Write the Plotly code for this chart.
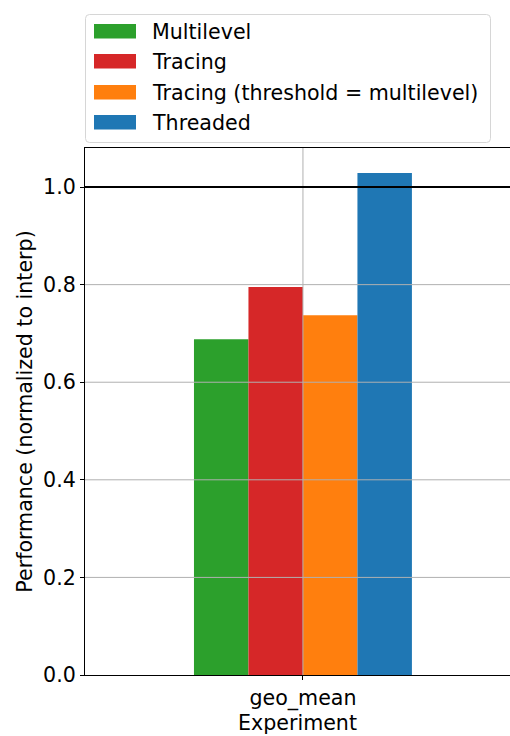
import plotly.graph_objects as go

# ---- data ----
categories = ["geo_mean"]
series_names = ["Multilevel", "Tracing", "Tracing (threshold = multilevel)", "Threaded"]
series_values = [[0.688], [0.795], [0.737], [1.029]]
series_colors = ["#2ca02c", "#d62728", "#ff7f0e", "#1f77b4"]
y_ticks = [0.0, 0.2, 0.4, 0.6, 0.8, 1.0]
y_tick_labels = ["0.0", "0.2", "0.4", "0.6", "0.8", "1.0"]
reference_level = 1.0

W, H = 510, 736
ML, MR, MT, MB = 85, 0, 148, 61
PW, PH = W - ML - MR, H - MT - MB
FONT = "DejaVu Sans"
FS = 20.6

def px_x(px):
    return (px - ML) / PW

def px_y(py):
    return (H - MB - py) / PH

fig = go.Figure()
for name, vals, col in zip(series_names, series_values, series_colors):
    fig.add_trace(go.Bar(x=categories, y=vals, name=name, marker=dict(color=col, line=dict(width=0)),
                         showlegend=False))

shapes = []
# gridlines above bars (as in reference)
for t in y_ticks[1:]:
    shapes.append(dict(type="line", xref="paper", yref="y", x0=0, x1=1, y0=t, y1=t,
                       line=dict(color="#b0b0b0", width=1), layer="above"))
shapes.append(dict(type="line", xref="x", yref="paper", x0=0, x1=0, y0=0, y1=1,
                   line=dict(color="#b0b0b0", width=1), layer="above"))
# reference line
shapes.append(dict(type="line", xref="paper", yref="y", x0=0, x1=1, y0=reference_level, y1=reference_level,
                   line=dict(color="black", width=2), layer="above"))

# manual legend
lx0, lx1, ly0, ly1, r = 85.5, 490.5, 14.5, 142.5, 4
path = (f"M {px_x(lx0 + r)},{px_y(ly0)} L {px_x(lx1 - r)},{px_y(ly0)} "
        f"Q {px_x(lx1)},{px_y(ly0)} {px_x(lx1)},{px_y(ly0 + r)} "
        f"L {px_x(lx1)},{px_y(ly1 - r)} Q {px_x(lx1)},{px_y(ly1)} {px_x(lx1 - r)},{px_y(ly1)} "
        f"L {px_x(lx0 + r)},{px_y(ly1)} Q {px_x(lx0)},{px_y(ly1)} {px_x(lx0)},{px_y(ly1 - r)} "
        f"L {px_x(lx0)},{px_y(ly0 + r)} Q {px_x(lx0)},{px_y(ly0)} {px_x(lx0 + r)},{px_y(ly0)} Z")
shapes.append(dict(type="path", xref="paper", yref="paper", path=path,
                   line=dict(color="#d6d6d6", width=1), fillcolor="white", layer="above"))
annotations = []
row_centers = [31.3, 61.3, 92.3, 122.3]
for name, col, cy in zip(series_names, series_colors, row_centers):
    shapes.append(dict(type="rect", xref="paper", yref="paper",
                       x0=px_x(94), x1=px_x(136), y0=px_y(cy - 7.3), y1=px_y(cy + 7.3),
                       fillcolor=col, line=dict(width=0), layer="above"))
    annotations.append(dict(xref="paper", yref="paper", x=px_x(150), y=px_y(cy + 0.5),
                            xanchor="left", yanchor="middle", text=name, showarrow=False,
                            font=dict(family=FONT, size=FS, color="black")))

fig.update_layout(
    width=W, height=H,
    margin=dict(l=ML, r=MR, t=MT, b=MB, pad=0),
    paper_bgcolor="white", plot_bgcolor="white",
    font=dict(family=FONT, size=FS, color="black"),
    barmode="group", bargap=0.5, bargroupgap=0,
    showlegend=False,
    shapes=shapes, annotations=annotations,
    xaxis=dict(type="category", range=[-0.5, 0.475], showgrid=False,
               showline=True, mirror=True, linecolor="black", linewidth=1,
               ticks="outside", ticklen=4, tickwidth=1, tickcolor="black",
               title=dict(text="Experiment", font=dict(family=FONT, size=FS, color="black"), standoff=4),
               tickfont=dict(family=FONT, size=FS, color="black"), zeroline=False),
    yaxis=dict(range=[0, 1.08], tickvals=y_ticks, ticktext=y_tick_labels, showgrid=False,
               showline=True, linecolor="black", linewidth=1, zeroline=False,
               ticks="outside", ticklen=4, tickwidth=1, tickcolor="black",
               title=dict(text="Performance (normalized to interp)",
                          font=dict(family=FONT, size=FS, color="black"), standoff=4),
               tickfont=dict(family=FONT, size=FS, color="black")),
)

fig.write_html("out.html", config={"displayModeBar": False},
               post_script="document.body.style.margin='0';document.body.style.overflow='hidden';")
